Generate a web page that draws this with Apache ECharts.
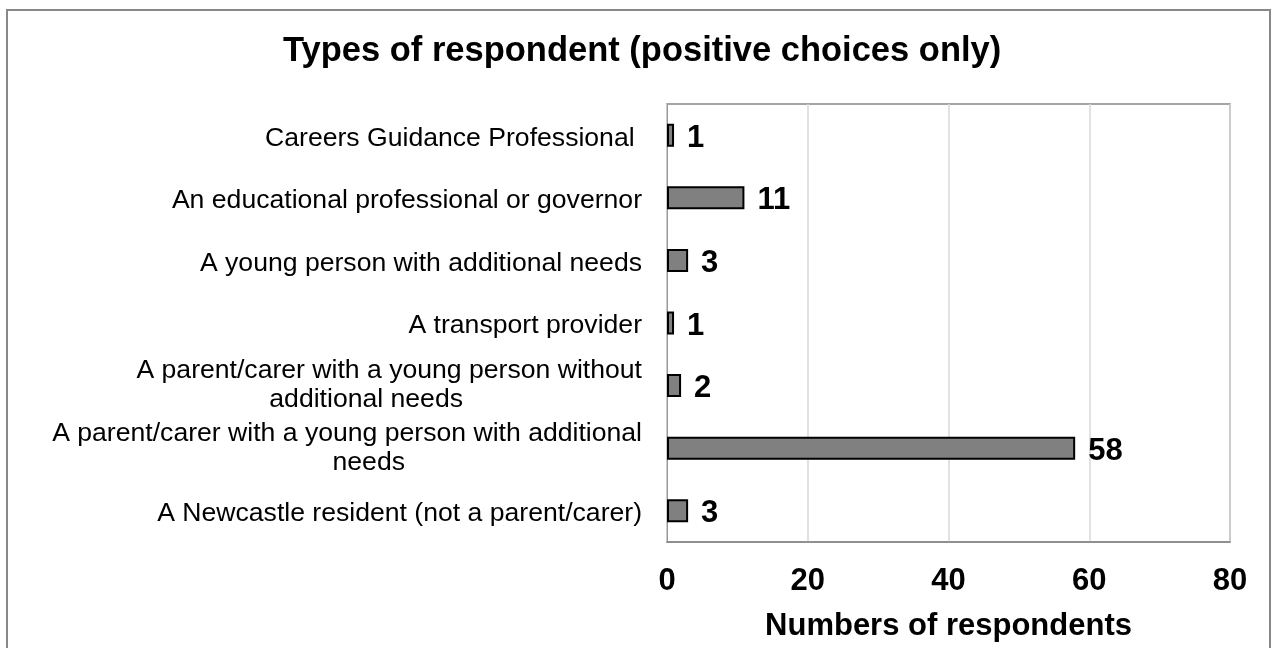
<!DOCTYPE html>
<html>
<head>
<meta charset="utf-8">
<script src="https://cdn.jsdelivr.net/npm/echarts@6/dist/echarts.min.js"></script>
<style>
  html, body { margin: 0; padding: 0; background: #fff; overflow: hidden; }
  #chart { width: 1273px; height: 648px; }
</style>
</head>
<body>
<div id="chart"></div>
<script>
// bottom row first (category y axis starts at the bottom)
const categories = [
  "A Newcastle resident (not a parent/carer)",
  "A parent/carer with a young person with additional\nneeds",
  "A parent/carer with a young person without\nadditional needs",
  "A transport provider",
  "A young person with additional needs",
  "An educational professional or governor",
  "Careers Guidance Professional ",
];
const respondents = [3, 58, 2, 1, 3, 11, 1];
const xTicks = [0, 20, 40, 60, 80];

const FONT = "Arial, 'Liberation Sans', sans-serif";

const chart = echarts.init(document.getElementById("chart"), null, {
  renderer: "canvas",
});

function labelFormatter(value) {
  // wrapped second lines sit left of the right edge in the original
  if (value.indexOf("without\n") >= 0) {
    const parts = value.split("\n");
    return "{t|" + parts[0] + "}\n{w|" + parts[1] + "}";
  }
  if (value.indexOf("additional\n") >= 0) {
    const parts = value.split("\n");
    return "{t|" + parts[0] + "}\n{n|" + parts[1] + "}";
  }
  return "{s|" + value + "}";
}

const labelText = {
  fontFamily: FONT,
  fontSize: 26.6,
  color: "#000",
  lineHeight: 29,
};

chart.setOption({
  backgroundColor: "#fff",
  animation: false,
  title: {
    text: "Types of respondent (positive choices only)",
    left: 283,
    top: 34,
    padding: 0,
    textStyle: {
      fontFamily: FONT,
      fontSize: 34.5,
      fontWeight: "bold",
      color: "#000",
    },
  },
  graphic: [
    {
      type: "rect",
      shape: { x: 7, y: 10, width: 1263, height: 660 },
      style: { fill: "none", stroke: "#888", lineWidth: 2 },
      silent: true,
    },
  ],
  grid: {
    left: 667,
    right: 43,
    top: 104,
    bottom: 106,
    show: true,
    borderColor: "#888",
    borderWidth: 1.5,
  },
  xAxis: {
    type: "value",
    min: xTicks[0],
    max: xTicks[xTicks.length - 1],
    interval: 20,
    name: "Numbers of respondents",
    nameLocation: "middle",
    nameGap: 69,
    nameTextStyle: {
      fontFamily: FONT,
      fontSize: 31,
      fontWeight: "bold",
      color: "#000",
    },
    axisLine: { show: true, lineStyle: { color: "#888", width: 1.5 } },
    axisTick: { show: false },
    splitLine: { show: true, lineStyle: { color: "#d9d9d9", width: 1.5 } },
    axisLabel: {
      margin: 24,
      fontFamily: FONT,
      fontSize: 31,
      fontWeight: "bold",
      color: "#000",
    },
  },
  yAxis: {
    type: "category",
    data: categories,
    axisLine: { show: true, lineStyle: { color: "#999", width: 1 } },
    axisTick: { show: false },
    axisLabel: {
      margin: 25,
      interval: 0,
      formatter: labelFormatter,
      rich: {
        s: Object.assign({}, labelText, { padding: [6, 0, 0, 0] }),
        t: labelText,
        w: Object.assign({}, labelText, { padding: [0, 179, 0, 0] }),
        n: Object.assign({}, labelText, { padding: [0, 237, 0, 0] }),
      },
    },
  },
  series: [
    {
      type: "bar",
      data: respondents,
      barWidth: 23,
      itemStyle: {
        color: "#808080",
        borderColor: "#000",
        borderWidth: 2,
      },
      label: {
        show: true,
        position: "right",
        distance: 13,
        offset: [0, 3],
        fontFamily: FONT,
        fontSize: 31,
        fontWeight: "bold",
        color: "#000",
      },
    },
  ],
});
</script>
</body>
</html>
